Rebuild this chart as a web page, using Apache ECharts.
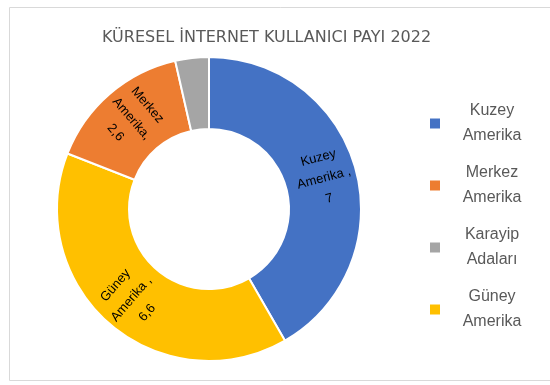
<!DOCTYPE html>
<html>
<head>
<meta charset="utf-8">
<style>
  html, body { margin: 0; padding: 0; background: #ffffff; }
  #chart { width: 550px; height: 385px; }
</style>
<script src="https://cdn.jsdelivr.net/npm/echarts@6/dist/echarts.min.js"></script>
</head>
<body>
<div id="chart"></div>
<script>
// Share of internet users by region, 2022 (ring drawn clockwise from the top)
const regions = ['Kuzey Amerika', 'Güney Amerika', 'Merkez Amerika', 'Karayip Adaları'];
const values = [7, 6.6, 2.6, 0.6];
const colors = ['#4472C4', '#FFC000', '#ED7D31', '#A5A5A5'];
const showLabel = [true, true, true, false];
const labelSep = [' ,', ' ,', ',', ' ,'];
// legend lists the regions in this order
const legendOrder = ['Kuzey Amerika', 'Merkez Amerika', 'Karayip Adaları', 'Güney Amerika'];

const fmt = v => String(v).replace('.', ',');

// radial text angle for each slice, kept readable (never upside down)
const total = values.reduce((a, b) => a + b, 0);
let acc = 0;
const labelRotate = values.map(v => {
  const mid = (acc + v / 2) / total * 360; // degrees clockwise from top
  acc += v;
  let r = 90 - mid;
  while (r > 90) r -= 180;
  while (r < -90) r += 180;
  return r;
});

const data = regions.map((name, i) => ({
  name: name,
  value: values[i],
  itemStyle: { color: colors[i] },
  label: { show: showLabel[i], rotate: labelRotate[i] }
}));

const chart = echarts.init(document.getElementById('chart'));
chart.setOption({
  animation: false,
  graphic: [{
    type: 'rect',
    shape: { x: 9.5, y: 7.5, width: 560, height: 373 },
    style: { fill: 'none', stroke: '#d9d9d9', lineWidth: 1 }
  }],
  title: {
    text: 'KÜRESEL İNTERNET KULLANICI PAYI 2022',
    left: 97,
    top: 25,
    textStyle: {
      fontFamily: 'DejaVu Sans, sans-serif',
      fontSize: 16,
      fontWeight: 'normal',
      color: '#595959'
    }
  },
  legend: {
    data: legendOrder,
    orient: 'vertical',
    left: 423,
    top: 98,
    itemWidth: 12,
    itemHeight: 12,
    itemGap: 21,
    icon: 'rect',
    formatter: name => name.split(' ').map(w => '{c|' + w + '}').join('\n'),
    textStyle: {
      color: '#595959',
      rich: {
        c: {
          fontFamily: 'Liberation Sans, Arial, sans-serif',
          fontSize: 16,
          color: '#595959',
          lineHeight: 25,
          width: 92,
          align: 'center'
        }
      }
    }
  },
  series: [{
    type: 'pie',
    center: [209, 209],
    radius: [80, 152],
    startAngle: 90,
    clockwise: true,
    avoidLabelOverlap: false,
    itemStyle: { borderColor: '#ffffff', borderWidth: 2 },
    label: {
      show: true,
      position: 'inside',
      color: '#000000',
      fontFamily: 'Liberation Sans, Arial, sans-serif',
      fontSize: 13,
      lineHeight: 21,
      align: 'center',
      formatter: p => {
        const parts = p.name.split(' ');
        return parts[0] + '\n' + parts[1] + labelSep[p.dataIndex] + '\n' + fmt(p.value);
      }
    },
    labelLine: { show: false },
    emphasis: { disabled: true },
    data: data
  }]
});
</script>
</body>
</html>
